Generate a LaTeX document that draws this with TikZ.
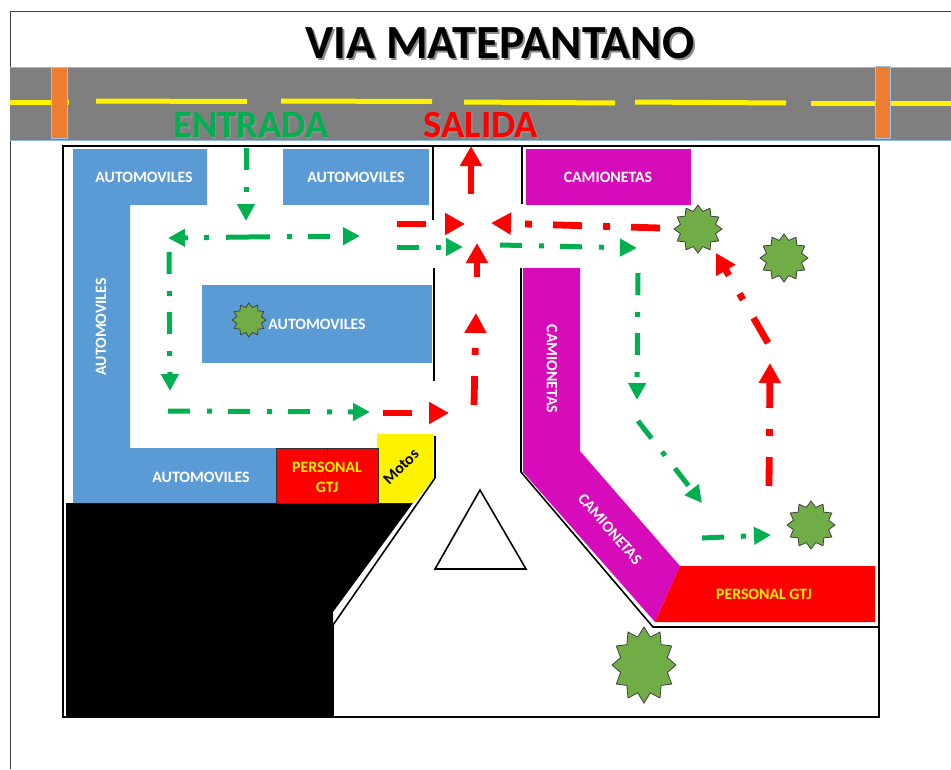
\documentclass[tikz,border=0pt]{standalone}
\usepackage{fontspec}
\setmainfont{Carlito}
\usetikzlibrary{arrows.meta,shapes.geometric}
\definecolor{cblue}{HTML}{5B9BD5}
\definecolor{cmag}{HTML}{D60CBB}
\definecolor{cgreen}{HTML}{00B050}
\definecolor{cstar}{HTML}{70AD47}
\definecolor{corange}{HTML}{ED7D31}
\definecolor{croad}{HTML}{7F7F7F}
\definecolor{cshadow}{HTML}{8C8C8C}
\newcommand{\shadowed}[2][1.6pt]{\leavevmode\rlap{\hspace{#1}\raisebox{-#1}{\textcolor{cshadow}{#2}}}#2}
\tikzset{
  x=1pt,y=-1pt,
  wall/.style={draw=black,line width=1.6pt,line join=miter},
  lbl/.style={font=\fontsize{15.8}{20}\selectfont\bfseries,text=white,inner sep=0pt,align=center},
  lblyellow/.style={lbl,text=yellow},
  head/.style={font=\fontsize{38.5}{42}\selectfont\bfseries,inner sep=0pt},
  tree/.style={star,star points=12,star point ratio=1.32,draw=black!75,line width=0.8pt,fill=cstar,inner sep=0pt,minimum size=#1},
  garrow/.style={draw=cgreen,line width=5pt,dash pattern=on 22pt off 17pt on 5pt off 16pt,-{Triangle[length=17pt,width=17pt]}},
  rarrow/.style={draw=red,line width=6.8pt,dash pattern=on 29pt off 21pt on 7pt off 21pt,-{Triangle[length=20pt,width=21pt]}},
  yline/.style={draw=yellow,line width=5pt},
  post/.style={fill=corange,draw=cblue!60,line width=0.6pt},
}
\begin{document}
\begin{tikzpicture}
\useasboundingbox (0,0) rectangle (951,769);
% page edge
\draw[black!75,line width=0.9pt] (951,11) -- (10,11) -- (10,769);
% road
\fill[croad] (10,67) rectangle (951,140);
\draw[cblue!70,line width=0.7pt] (10,67) -- (951,67) (10,140) -- (951,140);
\draw[yline] (10,102) -- (69,102);
\draw[yline] (96,101) -- (247,101.5);
\draw[yline] (281,101) -- (432,101.5);
\draw[yline] (464,102) -- (615,103);
\draw[yline] (635,102) -- (786,103);
\draw[yline] (811,103) -- (951,103);
\draw[post] (51,67) rectangle (67,138);
\draw[post] (875,66) rectangle (890,138);
\node[font=\fontsize{47.6}{52}\selectfont\bfseries,inner sep=0pt] (title) at (500,44) {\shadowed[2pt]{VIA MATEPANTANO}};
\node[head,text=cgreen] (entrada) at (251,126) {\shadowed{ENTRADA}};
\node[head,text=red] (salida) at (481,126) {\shadowed{SALIDA}};
% parking areas
\fill[black] (66,503) -- (413,503) -- (333,612) -- (333,717) -- (66,717) -- cycle;
\fill[cblue] (73,149) -- (207,149) -- (207,205) -- (130,205) -- (130,448) -- (276,448) -- (276,503) -- (73,503) -- cycle;
\fill[cblue] (283,149) rectangle (429,205);
\fill[cblue] (202,285) rectangle (432,363);
\fill[cmag] (526,149) rectangle (691,205);
\fill[cmag] (523,268) -- (580,268) -- (580,451) -- (680,566) -- (655,622) -- (523,472) -- cycle;
\fill[red] (680,566) -- (875,566) -- (875,622) -- (655,622) -- cycle;
\fill[yellow] (377,434) -- (433,434) -- (433,480) -- (413,503) -- (378,503) -- cycle;
\draw[fill=red,draw=black!80,line width=0.7pt] (276,448) rectangle (378,503);
\draw[black!80,line width=0.7pt] (327,448) -- (327,503);
% walls
\draw[wall] (333,717) -- (63,717) -- (63,146) -- (879,146) -- (879,717) -- (333,717);
\draw[wall] (433,146) -- (433,220);
\draw[wall] (522,146) -- (522,204);
\draw[wall] (434,268) -- (434,381);
\draw[wall] (521,268) -- (521,472) -- (653,627) -- (879,627);
\draw[wall] (435,436) -- (435,478) -- (333,625) -- (333,717);
\draw[wall] (480,490) -- (526,569) -- (435,569) -- cycle;
% labels
\node[lbl] (a1) at (144,177) {AUTOMOVILES};
\node[lbl] (a2) at (356,177) {AUTOMOVILES};
\node[lbl] (a3) at (317,324) {AUTOMOVILES};
\node[lbl,rotate=90] (a4) at (101,327) {AUTOMOVILES};
\node[lbl] (a5) at (201,477) {AUTOMOVILES};
\node[lbl] (c1) at (608,177) {CAMIONETAS};
\node[lbl,rotate=-90] (c2) at (552,369) {CAMIONETAS};
\node[lbl,rotate=-49] (c3) at (610,529) {CAMIONETAS};
\node[lblyellow] (p1) at (327,477) {PERSONAL\\GTJ};
\node[lblyellow] (p2) at (764,594) {PERSONAL GTJ};
\node[lbl,text=black,rotate=45,font=\fontsize{16}{20}\selectfont\bfseries] (m1) at (401,467) {Motos};
% trees
\node[tree=48pt] (t1) at (698,229) {};
\node[tree=48pt] (t2) at (784,258) {};
\node[tree=48pt] (t3) at (811,525) {};
\node[tree=64pt,yscale=1.19] (t4) at (644,665) {};
\node[tree=34pt] (t5) at (249,320) {};
% route points
\coordinate (g1a) at (246,148); \coordinate (g1b) at (246,221);
\coordinate (g2a) at (248,237); \coordinate (g2b) at (168,238); \coordinate (g2c) at (360,236);
\coordinate (g3a) at (169,252); \coordinate (g3b) at (170,391);
\coordinate (g4a) at (168,411); \coordinate (g4b) at (370,412);
\coordinate (g5a) at (397,247); \coordinate (g5b) at (463,247);
\coordinate (g6a) at (500,245); \coordinate (g6b) at (637,248);
\coordinate (g7a) at (638,273); \coordinate (g7b) at (637,400);
\coordinate (g8a) at (638,421); \coordinate (g8b) at (702,503);
\coordinate (g9a) at (702,538); \coordinate (g9b) at (771,535);
\coordinate (r1a) at (383,413); \coordinate (r1b) at (449,413);
\coordinate (r2a) at (474,405); \coordinate (r2b) at (476,313);
\coordinate (r3a) at (477,277); \coordinate (r3b) at (477,243);
\coordinate (r4a) at (471,194); \coordinate (r4b) at (471,146);
\coordinate (r5a) at (397,224); \coordinate (r5b) at (465,224);
\coordinate (r6a) at (660,228); \coordinate (r6b) at (491,223);
\coordinate (r7a) at (768,343); \coordinate (r7b) at (716,253);
\coordinate (r8a) at (769,486); \coordinate (r8b) at (770,363);
% routes
\draw[garrow] (g1a) -- (g1b);
\draw[garrow] (g2a) -- (g2b);
\draw[garrow] (g2a) -- (g2c);
\draw[garrow] (g3a) -- (g3b);
\draw[garrow] (g4a) -- (g4b);
\draw[garrow] (g5a) -- (g5b);
\draw[garrow] (g6a) -- (g6b);
\draw[garrow] (g7a) -- (g7b);
\draw[garrow] (g8a) -- (g8b);
\draw[garrow] (g9a) -- (g9b);
\draw[rarrow] (r1a) -- (r1b);
\draw[rarrow] (r2a) -- (r2b);
\draw[rarrow] (r3a) -- (r3b);
\draw[rarrow] (r4a) -- (r4b);
\draw[rarrow] (r5a) -- (r5b);
\draw[rarrow] (r6a) -- (r6b);
\draw[rarrow] (r7a) -- (r7b);
\draw[rarrow] (r8a) -- (r8b);
\end{tikzpicture}
\end{document}
